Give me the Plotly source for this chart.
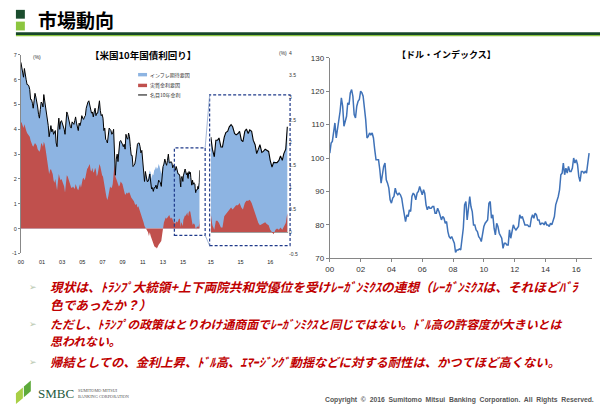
import plotly.graph_objects as go
import pandas as pd

W, H = 600, 411
def X(p): return p / W
def Y(p): return 1 - p / H

# ---------------- data ----------------
# US 10y nominal yield (%), monthly Jan-2000 .. Dec-2014
NOMINAL_MONTHLY = [
    6.70, 6.45, 6.20, 6.10, 6.45, 6.10, 6.00, 5.80, 5.80, 5.75, 5.60, 5.20,
    5.20, 5.05, 4.85, 5.15, 5.45, 5.30, 5.15, 4.90, 4.60, 4.45, 4.80, 5.10,
    5.05, 4.90, 5.40, 5.15, 5.10, 4.85, 4.55, 4.15, 3.70, 4.00, 4.15, 3.90,
    4.00, 3.80, 3.85, 3.95, 3.45, 3.30, 4.05, 4.45, 4.00, 4.30, 4.35, 4.25,
    4.15, 4.00, 3.80, 4.45, 4.70, 4.60, 4.45, 4.20, 4.10, 4.05, 4.30, 4.25,
    4.20, 4.35, 4.50, 4.25, 4.00, 3.95, 4.25, 4.15, 4.30, 4.55, 4.45, 4.40,
    4.50, 4.55, 4.85, 5.05, 5.10, 5.15, 5.00, 4.80, 4.65, 4.70, 4.50, 4.70,
    4.85, 4.55, 4.65, 4.65, 4.90, 5.15, 4.75, 4.55, 4.60, 4.45, 3.95, 4.05,
    3.60, 3.55, 3.45, 3.75, 4.05, 4.00, 3.95, 3.80, 3.85, 4.00, 3.00, 2.15,
    2.80, 3.00, 2.70, 3.15, 3.50, 3.55, 3.50, 3.40, 3.30, 3.40, 3.20, 3.80,
    3.65, 3.60, 3.85, 3.70, 3.30, 2.95, 2.95, 2.50, 2.55, 2.60, 2.80, 3.30,
    3.40, 3.45, 3.45, 3.30, 3.05, 3.15, 2.80, 2.20, 1.90, 2.30, 2.05, 1.90,
    1.90, 2.00, 2.20, 1.95, 1.60, 1.65, 1.50, 1.65, 1.65, 1.75, 1.60, 1.75,
    1.95, 1.90, 1.85, 1.70, 2.15, 2.50, 2.60, 2.80, 2.65, 2.55, 2.75, 3.00,
    2.65, 2.65, 2.70, 2.65, 2.45, 2.55, 2.55, 2.35, 2.50, 2.30, 2.20, 2.20,
]
# real-rate factor (%), monthly Jan-2000 .. Dec-2014
REAL_MONTHLY = [
    4.30, 4.25, 4.15, 4.05, 4.20, 4.00, 3.95, 3.85, 3.80, 3.80, 3.70, 3.55,
    3.40, 3.35, 3.30, 3.40, 3.45, 3.40, 3.35, 3.20, 3.15, 3.10, 3.20, 3.45,
    3.40, 3.30, 3.50, 3.40, 3.20, 2.95, 2.80, 2.45, 2.20, 2.35, 2.40, 2.30,
    2.20, 1.95, 1.85, 2.00, 1.70, 1.55, 1.90, 2.20, 2.05, 1.95, 2.00, 1.90,
    1.80, 1.70, 1.45, 1.90, 2.15, 2.10, 2.00, 1.85, 1.80, 1.65, 1.65, 1.70,
    1.65, 1.60, 1.80, 1.65, 1.60, 1.55, 1.75, 1.80, 1.65, 1.85, 2.00, 2.05,
    1.95, 2.05, 2.25, 2.40, 2.45, 2.55, 2.60, 2.35, 2.30, 2.45, 2.25, 2.30,
    2.45, 2.35, 2.10, 2.20, 2.40, 2.60, 2.50, 2.30, 2.15, 2.10, 1.80, 1.75,
    1.45, 1.25, 1.15, 1.30, 1.50, 1.70, 1.65, 1.65, 1.80, 2.40, 2.60, 2.10,
    1.95, 1.90, 1.80, 1.70, 1.75, 1.90, 1.85, 1.80, 1.65, 1.50, 1.35, 1.40,
    1.45, 1.40, 1.45, 1.45, 1.30, 1.25, 1.20, 1.15, 1.10, 1.00, 0.95, 1.00,
    0.85, 0.90, 0.80, 0.75, 0.65, 0.55, 0.45, 0.25, 0.10, 0.05, 0.00, -0.05,
    -0.15, -0.30, -0.15, -0.30, -0.40, -0.55, -0.65, -0.70, -0.75, -0.75, -0.80, -0.70,
    -0.65, -0.60, -0.55, -0.50, -0.25, 0.05, 0.25, 0.35, 0.45, 0.40, 0.45, 0.50,
    0.55, 0.45, 0.40, 0.45, 0.30, 0.25, 0.25, 0.20, 0.30, 0.25, 0.30, 0.40,
]
# semi-monthly (1st / 15th) Jan-2015 .. Nov-2016
NOMINAL_SEMI = [
    2.12, 1.85, 1.68, 2.05, 2.05, 2.10, 1.90, 1.90, 2.12, 2.22, 2.25, 2.35,
    2.40, 2.35, 2.20, 2.17, 2.20, 2.25, 2.05, 2.02, 2.25, 2.30, 2.20, 2.28,
    2.25, 2.05, 1.95, 1.75, 1.85, 1.95, 1.78, 1.80, 1.85, 1.82, 1.80, 1.60,
    1.45, 1.55, 1.55, 1.55, 1.60, 1.70, 1.60, 1.75, 1.85, 2.35,
]
REAL_SEMI = [
    0.40, 0.15, 0.05, 0.25, 0.25, 0.20, 0.10, 0.10, 0.35, 0.40, 0.45, 0.50,
    0.55, 0.50, 0.55, 0.60, 0.60, 0.65, 0.55, 0.50, 0.65, 0.70, 0.70, 0.72,
    0.65, 0.55, 0.40, 0.30, 0.20, 0.15, 0.18, 0.20, 0.22, 0.18, 0.15, 0.05,
    0.00, -0.05, 0.05, 0.08, 0.05, 0.10, 0.05, 0.12, 0.20, 0.42,
]
# Dollar index, monthly Jan-2000 .. Nov-2016
DXY = [
    101.5, 104.5, 105.0, 108.5, 110.5, 106.0, 108.5, 111.5, 114.0, 118.0, 115.5, 109.5,
    111.0, 112.5, 116.5, 116.0, 119.5, 120.5, 118.5, 113.0, 112.0, 115.5, 117.0, 117.5,
    120.0, 119.5, 118.5, 115.0, 111.5, 106.0, 106.5, 107.5, 107.0, 107.5, 106.0, 102.5,
    99.5, 99.5, 99.5, 96.5, 92.5, 95.0, 97.5, 98.5, 93.5, 92.5, 91.0, 87.5,
    86.5, 88.0, 88.5, 91.0, 89.5, 89.0, 89.5, 89.0, 88.0, 85.5, 82.5, 81.0,
    83.0, 82.5, 84.5, 84.0, 88.5, 89.5, 89.0, 87.5, 89.5, 90.0, 91.5, 90.5,
    89.0, 90.5, 89.5, 86.0, 84.5, 85.5, 85.0, 85.0, 85.5, 85.5, 83.5, 83.5,
    85.0, 84.0, 83.0, 81.5, 82.5, 82.0, 80.5, 81.0, 78.0, 76.5, 76.0, 76.5,
    75.5, 74.5, 71.8, 72.5, 72.5, 72.8, 72.5, 77.0, 79.0, 86.0, 87.0, 81.5,
    86.0, 88.5, 85.5, 84.0, 80.0, 80.0, 78.5, 78.0, 76.5, 76.0, 75.0, 77.5,
    79.5, 80.5, 81.0, 81.5, 86.5, 87.0, 82.0, 83.0, 79.0, 77.0, 80.5, 79.5,
    77.5, 76.5, 76.0, 73.0, 74.5, 74.5, 74.0, 74.0, 78.5, 76.0, 78.5, 80.0,
    79.0, 78.5, 79.0, 79.5, 83.0, 82.0, 82.5, 81.5, 80.0, 80.0, 80.0, 79.5,
    79.5, 82.0, 83.0, 82.0, 83.5, 83.0, 81.5, 81.5, 80.0, 80.5, 80.5, 80.0,
    81.0, 80.0, 80.0, 79.5, 80.5, 80.0, 81.5, 82.5, 86.0, 87.0, 88.5, 90.5,
    95.0, 95.5, 98.5, 95.0, 97.0, 95.5, 97.5, 96.0, 96.0, 97.0, 100.0, 98.5,
    99.5, 98.0, 94.5, 93.0, 96.0, 96.0, 95.5, 96.0, 95.5, 98.5, 101.5,
]

MAIN_TICK_DATES = ['2000-01-01', '2002-01-01', '2003-11-24', '2005-10-19', '2007-09-13',
                   '2009-08-08', '2011-07-02', '2013-05-27', '2015-04-20']
MAIN_TICK_TEXT = ['00', '01', '03', '05', '07', '09', '11', '13', '15']
MAIN_Y_TICKS = [-1, 0, 1, 2, 3, 4, 5, 6, 7]
INSET_TICK_DATES = ['2015-01-01', '2015-09-24', '2016-06-16']
INSET_TICK_TEXT = ['15', '15', '16']
INSET_Y_TICKS = [-0.5, 0, 0.5, 1, 1.5, 2, 2.5, 3, 3.5, 4]
INSET_Y_TEXT = ['-0.5', '0', '0.5', '1', '1.5', '2', '2.5', '3', '3.5', '4']
DXY_TICK_DATES = ['2000-01-01', '2002-01-01', '2004-01-01', '2006-01-01', '2008-01-01',
                  '2010-01-01', '2012-01-01', '2014-01-01', '2016-01-01']
DXY_TICK_TEXT = ['00', '02', '04', '06', '08', '10', '12', '14', '16']
DXY_Y_TICKS = [70, 80, 90, 100, 110, 120, 130]

LEGEND_LABELS = ['インフレ期待要因', '実質金利要因', '名目10年金利']

# ---------------- derived ----------------
monthly = list(pd.date_range('2000-01-01', '2014-12-01', freq='MS'))
semi = [d for m in pd.date_range('2015-01-01', '2016-11-01', freq='MS')
        for d in (m, m + pd.Timedelta(days=14))]
dxy_dates = list(pd.date_range('2000-01-01', '2016-11-01', freq='MS'))

all_dates = monthly + semi
all_nom = NOMINAL_MONTHLY + NOMINAL_SEMI
all_real = REAL_MONTHLY + REAL_SEMI
blue_top = [n - min(r, 0) for n, r in zip(all_nom, all_real)]
blue_top_semi = [n - min(r, 0) for n, r in zip(NOMINAL_SEMI, REAL_SEMI)]

BLUE = '#8DB4E2'
RED = '#C0504D'
NAVY = '#1F3A8A'
CJK = 'Noto Sans CJK JP'
LAT = 'Liberation Sans, Arial'

fig = go.Figure()

def area(x, y, color, xa, ya):
    fig.add_trace(go.Scatter(x=x, y=y, mode='lines', fill='tozeroy', fillcolor=color,
                             line=dict(width=0, color=color), xaxis=xa, yaxis=ya,
                             showlegend=False, hoverinfo='skip'))

# main chart
area(all_dates, blue_top, BLUE, 'x', 'y')
area(all_dates, all_real, RED, 'x', 'y')
fig.add_trace(go.Scatter(x=all_dates, y=all_nom, mode='lines', line=dict(color='black', width=1),
                         xaxis='x', yaxis='y', showlegend=False))
# inset
area(semi, blue_top_semi, BLUE, 'x2', 'y2')
area(semi, REAL_SEMI, RED, 'x2', 'y2')
fig.add_trace(go.Scatter(x=semi, y=NOMINAL_SEMI, mode='lines', line=dict(color='black', width=1.1),
                         xaxis='x2', yaxis='y2', showlegend=False))
# dollar index
fig.add_trace(go.Scatter(x=dxy_dates, y=DXY, mode='lines', line=dict(color='#3F72B8', width=1.5),
                         xaxis='x3', yaxis='y3', showlegend=False))

shapes = []
annos = []

def rect(x0, y0, x1, y1, color, line=None):
    shapes.append(dict(type='rect', xref='paper', yref='paper', x0=X(x0), x1=X(x1),
                       y0=Y(y1), y1=Y(y0), fillcolor=color, line=line or dict(width=0), layer='above'))

def seg(x0, y0, x1, y1, color, width=1, dash='solid'):
    shapes.append(dict(type='line', xref='paper', yref='paper', x0=X(x0), x1=X(x1),
                       y0=Y(y0), y1=Y(y1), line=dict(color=color, width=width, dash=dash), layer='above'))

def text(x, y, s, size, color='black', family=CJK, xanchor='left', yanchor='middle'):
    annos.append(dict(xref='paper', yref='paper', x=X(x), y=Y(y), text=s, showarrow=False,
                      xanchor=xanchor, yanchor=yanchor, borderpad=0,
                      font=dict(size=size, color=color, family=family)))

# header
rect(12, 6, 21, 15, '#1B4D2E')
rect(12, 18, 21, 27, '#8CC63F')
text(33, 16, '<b>市場動向</b>', 19)
rect(12, 29, 600, 31.6, '#17472A')
rect(12, 31.6, 600, 33, '#8CC63F')

# zoom boxes
dash = '3px,2px'
shapes.append(dict(type='rect', xref='paper', yref='paper', x0=X(171.5), x1=X(202.5), y0=Y(236.5), y1=Y(147),
                   line=dict(color=NAVY, width=1.2, dash=dash), layer='above'))
shapes.append(dict(type='rect', xref='paper', yref='paper', x0=X(207), x1=X(288), y0=Y(247), y1=Y(93),
                   line=dict(color=NAVY, width=1.2, dash=dash), layer='above'))
seg(202.5, 147, 207, 93, '#8EA4CC', 0.8)
seg(202.5, 236.5, 207, 247, '#8EA4CC', 0.8)

# legend (custom)
rect(135, 70.5, 144, 74, BLUE)
rect(135, 81.5, 144, 85, RED)
seg(135, 93, 144, 93, 'black', 1)
for yy, lab in zip([72.3, 83.3, 93], LEGEND_LABELS):
    text(146, yy, lab, 5, '#333333')

# chart titles / units
text(140, 52, '<b>【米国10年国債利回り】</b>', 9.5, xanchor='center')
text(445, 52, '<b>【ドル・インデックス】</b>', 9, xanchor='center')
text(33, 54, '(%)', 5, '#333333', LAT, xanchor='center')
text(281, 50, '(%)', 5, '#333333', LAT, xanchor='center')

# bullets
RED_TXT = '#C00000'
bullets = [
    (289, '現状は、ﾄﾗﾝﾌﾟ大統領+上下両院共和党優位を受けﾚｰｶﾞﾝﾐｸｽの連想（ﾚｰｶﾞﾝﾐｸｽは、それほどﾊﾞﾗ', True, 12.7),
    (307.5, '色であったか？）', False, 12.7),
    (327, 'ただし、ﾄﾗﾝﾌﾟの政策はとりわけ通商面でﾚｰｶﾞﾝﾐｸｽと同じではない。ﾄﾞﾙ高の許容度が大きいとは', True, 11.9),
    (344, '思われない。', False, 11.9),
    (366, '帰結としての、金利上昇、ﾄﾞﾙ高、ｴﾏｰｼﾞﾝｸﾞ動揺などに対する耐性は、かつてほど高くない。', True, 12.3),
]
for yy, s, has_marker, fs in bullets:
    if has_marker:
        text(24, yy, '➢', 9, '#B7C6AE', 'DejaVu Sans')
    text(45, yy, '<b><i>' + s + '</i></b>', fs, RED_TXT)

# SMBC logo
shapes.append(dict(type='path', xref='paper', yref='paper',
                   path=f'M {X(12)},{Y(409)} L {X(12)},{Y(398)} L {X(19)},{Y(392)} L {X(19)},{Y(403)} Z',
                   fillcolor='#A8CF45', line=dict(width=0), layer='above'))
shapes.append(dict(type='path', xref='paper', yref='paper',
                   path=f'M {X(20)},{Y(402)} L {X(20)},{Y(391)} L {X(27)},{Y(385)} L {X(27)},{Y(396)} Z',
                   fillcolor='#5DAA3A', line=dict(width=0), layer='above'))
text(33, 398, 'SMBC', 13, '#1E5A40', 'Liberation Serif, DejaVu Serif')
text(73, 395, 'SUMITOMO MITSUI', 4.3, '#555555', 'Liberation Serif')
text(73, 401, 'BANKING CORPORATION', 4.3, '#555555', 'Liberation Serif')
text(595, 405, '<b>Copyright  ©  2016  Sumitomo  Mitsui  Banking  Corporation.  All  Rights  Reserved.</b>',
     6.8, '#555555', LAT, xanchor='right')

fig.update_layout(
    width=W, height=H, autosize=False,
    margin=dict(l=0, r=0, t=0, b=0),
    paper_bgcolor='white', plot_bgcolor='rgba(0,0,0,0)',
    showlegend=False,
    shapes=shapes, annotations=annos,
    xaxis=dict(domain=[X(17), X(197)], range=['2000-01-01', '2016-11-15'], anchor='y',
               tickmode='array', tickvals=MAIN_TICK_DATES, ticktext=MAIN_TICK_TEXT,
               showgrid=False, zeroline=False, showline=False, ticks='', ticklabelstandoff=4,
               tickfont=dict(size=5.5, color='#222', family=LAT)),
    yaxis=dict(domain=[Y(255), Y(52)], range=[-1, 7], anchor='x',
               tickmode='array', tickvals=MAIN_Y_TICKS, ticktext=[str(v) for v in MAIN_Y_TICKS],
               showgrid=False, zeroline=False, showline=True, linecolor='#888888', linewidth=1,
               ticks='outside', ticklen=2, tickcolor='#888888',
               tickfont=dict(size=5.5, color='#333', family=LAT)),
    xaxis2=dict(domain=[X(208), X(286)], range=['2014-12-30', '2016-11-22'], anchor='y2',
                tickmode='array', tickvals=INSET_TICK_DATES, ticktext=INSET_TICK_TEXT,
                showgrid=False, zeroline=False, showline=False, ticks='', ticklabelstandoff=3,
                tickfont=dict(size=5.5, color='#222', family=LAT)),
    yaxis2=dict(domain=[Y(256), Y(50)], range=[-0.5, 4], anchor='x2', side='right',
                tickmode='array', tickvals=INSET_Y_TICKS, ticktext=INSET_Y_TEXT,
                showgrid=False, zeroline=True, zerolinecolor='#A0A0A0', zerolinewidth=1,
                showline=False, ticks='',
                tickfont=dict(size=5, color='#333', family=LAT)),
    xaxis3=dict(domain=[X(328), X(592)], range=['2000-01-01', '2017-01-10'], anchor='y3',
                tickmode='array', tickvals=DXY_TICK_DATES, ticktext=DXY_TICK_TEXT,
                showgrid=False, zeroline=False, showline=True, linecolor='#868686', linewidth=1,
                ticks='outside', ticklen=3, tickcolor='#868686',
                tickfont=dict(size=8, color='#333', family=LAT)),
    yaxis3=dict(domain=[Y(260), Y(55)], range=[70, 130], anchor='x3',
                tickmode='array', tickvals=DXY_Y_TICKS, ticktext=[str(v) for v in DXY_Y_TICKS],
                showgrid=False, zeroline=False, showline=True, linecolor='#868686', linewidth=1,
                ticks='outside', ticklen=3, tickcolor='#868686',
                tickfont=dict(size=8, color='#333', family=LAT)),
)

fig.write_html('out.html')
